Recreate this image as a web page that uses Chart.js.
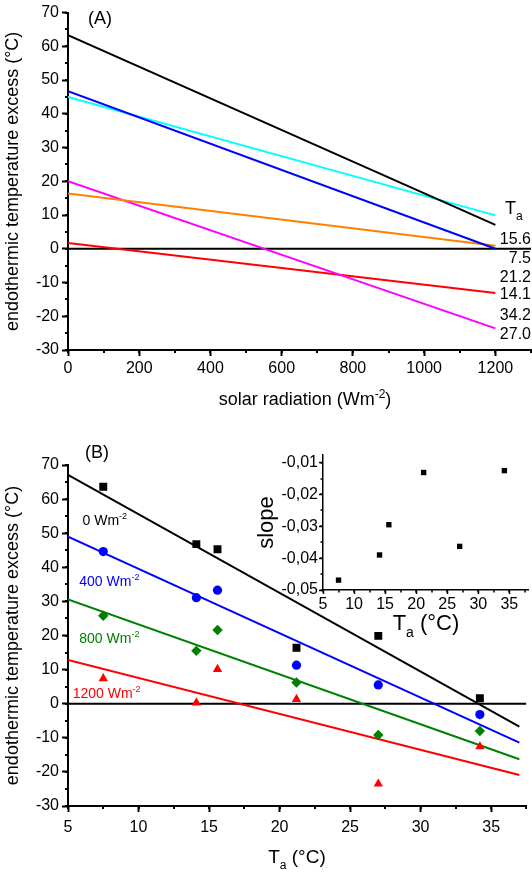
<!DOCTYPE html>
<html>
<head>
<meta charset="utf-8">
<script src="https://cdn.jsdelivr.net/npm/chart.js@4.4.1/dist/chart.umd.min.js"></script>
<style>
  body { margin: 0; background: #fff; }
  .panel { position: absolute; }
</style>
</head>
<body>
<div class="panel" style="left:0;top:0;width:532px;height:420px"><canvas id="chartA" width="532" height="420"></canvas></div>
<div class="panel" style="left:0;top:400px;width:532px;height:472px"><canvas id="chartB" width="532" height="472"></canvas></div>
<div class="panel" style="left:250px;top:440px;width:282px;height:200px"><canvas id="inset" width="282" height="200"></canvas></div>
<script>
// ---- data ----
// air temperatures of the six runs
const taValues = [7.5, 14.1, 15.6, 21.2, 27.0, 34.2];

// panel A: fitted lines vs solar radiation, value at 0 and at 1200 Wm-2
const radiationEnds = [0, 1200];
const excessAt0 = [63.3, 46.7, 45.0, 16.4, 20.0, 1.7];
const excessAt1200 = [7.1, 0.0, 9.9, 0.9, -23.6, -13.1];
const labelOrderA = ['15.6', '7.5', '21.2', '14.1', '34.2', '27.0'];

// panel B: measured points per radiation level
const levelsB = ['0', '400', '800', '1200'];
const excess0 = [63.6, 46.8, 45.3, 16.4, 19.9, 1.6];
const excess400 = [44.6, 31.1, 33.3, 11.3, 5.5, -3.2];
const excess800 = [25.8, 15.5, 21.6, 6.2, -9.2, -8.0];
const excess1200 = [7.4, 0.3, 10.1, 1.3, -23.5, -12.6];
// panel B: regression lines, ends at Ta = 5 and 37
const fitTa = [5, 37];
const fit0 = [67.1, -6.7];
const fit400 = [49.0, -11.4];
const fit800 = [30.6, -16.3];
const fit1200 = [12.8, -20.9];

// inset: slope of each line of panel A
const slopes = [-0.0469, -0.0390, -0.0295, -0.0131, -0.0363, -0.0125];

// ---- styles ----
const FONT = '"Liberation Sans", Arial, sans-serif';
Chart.defaults.font.family = FONT;
Chart.defaults.color = '#000';
const colorsA = ['#000000', '#0000ff', '#00ffff', '#ff8000', '#ff00ff', '#ff0000'];
const colorsB = ['#000000', '#0000ff', '#008000', '#ff0000'];
const stylesB = ['rect', 'circle', 'rectRot', 'triangle'];
const radiiB = [5.6, 4.6, 5.2, 5.4];

function pts(xs, ys) {
    return xs.map((x, i) => ({ x: x, y: ys[i] }));
}

// draws a text run with sub/superscripts, y is the middle of capitals
function drawRich(ctx, parts, x, y, size, color, align) {
    const small = Math.round(size * 0.65);
    let w = 0;
    parts.forEach(p => {
        ctx.font = ((p.sub || p.sup) ? small : size) + 'px ' + FONT;
        w += ctx.measureText(p.t).width;
    });
    let cx = align === 'center' ? x - w / 2 : (align === 'right' ? x - w : x);
    const base = y + size * 0.36;
    ctx.save();
    ctx.fillStyle = color;
    ctx.textAlign = 'left';
    ctx.textBaseline = 'alphabetic';
    parts.forEach(p => {
        ctx.font = ((p.sub || p.sup) ? small : size) + 'px ' + FONT;
        const dy = p.sub ? size * 0.3 : (p.sup ? -size * 0.42 : 0);
        ctx.fillText(p.t, cx, base + dy);
        cx += ctx.measureText(p.t).width;
    });
    ctx.restore();
}

// text annotations: data coordinates (xv/yv) or canvas pixels (px/py)
const richText = {
    id: 'richText',
    afterDraw(chart, args, opts) {
        const ctx = chart.ctx;
        (opts.items || []).forEach(it => {
            const x = it.xv !== undefined ? chart.scales.x.getPixelForValue(it.xv) : it.px;
            const y = it.yv !== undefined ? chart.scales.y.getPixelForValue(it.yv) : it.py;
            drawRich(ctx, it.parts, x, y, it.size, it.color || '#000', it.align || 'left');
        });
    }
};

// short ticks between the labelled ones
const minorTicks = {
    id: 'minorTicks',
    afterDraw(chart) {
        const ctx = chart.ctx;
        Object.values(chart.scales).forEach(sc => {
            const step = sc.options.minorStep;
            if (!step) return;
            const len = sc.options.minorLength || 3;
            ctx.save();
            ctx.strokeStyle = '#000';
            ctx.lineWidth = sc.options.grid.tickWidth || 1;
            ctx.beginPath();
            for (let k = Math.ceil(sc.min / step - 1e-9); k * step <= sc.max + 1e-9; k++) {
                const p = Math.round(sc.getPixelForValue(k * step));
                if (sc.isHorizontal()) {
                    ctx.moveTo(p, sc.top);
                    ctx.lineTo(p, sc.top + len);
                } else {
                    ctx.moveTo(sc.right, p);
                    ctx.lineTo(sc.right - len, p);
                }
            }
            ctx.stroke();
            ctx.restore();
        });
    }
};

function axis(min, max, step, extra) {
    return Object.assign({
        type: 'linear',
        min: min,
        max: max,
        ticks: { stepSize: step, includeBounds: false, autoSkip: false, maxRotation: 0,
                 font: { size: 16 }, color: '#000', padding: 3, callback: v => String(v) },
        grid: { drawOnChartArea: false, drawTicks: true, tickLength: 6, tickWidth: 2, tickColor: '#000' },
        border: { display: true, color: '#000', width: 2 }
    }, extra);
}

const yTitle = {
    display: true,
    text: 'endothermic temperature excess (°C)',
    font: { size: 18, lineHeight: 1.2 },
    padding: { top: 2, bottom: 0 }
};

// ---- panel A ----
const datasetsA = taValues.map((ta, i) => ({
    data: pts(radiationEnds, [excessAt0[i], excessAt1200[i]]),
    showLine: true,
    borderColor: colorsA[i],
    borderWidth: 2,
    pointRadius: 0
}));
datasetsA.push({
    data: pts([0, 1300], [0, 0]),
    showLine: true, borderColor: '#000', borderWidth: 2, pointRadius: 0
});

const labelYA = [3.2, -2.6, -8.2, -13.2, -19.4, -25.0];
const itemsA = [
    { parts: [{ t: '(A)' }], px: 88, py: 18, size: 18 },
    { parts: [{ t: 'T' }, { t: 'a', sub: true }], xv: 1227, yv: 12.1, size: 18 },
    { parts: [{ t: 'solar radiation (Wm' }, { t: '-2', sup: true }, { t: ')' }], px: 305, py: 399, size: 18, align: 'center' }
].concat(labelOrderA.map((t, i) => ({ parts: [{ t: t }], xv: 1300, yv: labelYA[i], size: 16, align: 'right' })));

new Chart(document.getElementById('chartA'), {
    type: 'scatter',
    data: { datasets: datasetsA },
    options: {
        responsive: false,
        animation: false,
        devicePixelRatio: 1,
        layout: { padding: { top: 10, right: 1, left: 0, bottom: 0 } },
        plugins: { legend: { display: false }, tooltip: { enabled: false }, richText: { items: itemsA } },
        scales: {
            x: axis(0, 1300, 200, { minorStep: 100, afterFit(s) { s.height = 70; } }),
            y: axis(-30, 70, 10, { minorStep: 5, title: yTitle, afterFit(s) { s.width = 68; } })
        }
    },
    plugins: [richText, minorTicks]
});

// ---- panel B ----
const pointSets = [excess0, excess400, excess800, excess1200];
const fitSets = [fit0, fit400, fit800, fit1200];
const datasetsB = [];
pointSets.forEach((ys, i) => datasetsB.push({
    data: pts(taValues, ys),
    pointStyle: stylesB[i],
    pointRadius: radiiB[i],
    pointBackgroundColor: colorsB[i],
    pointBorderWidth: 0,
    showLine: false
}));
fitSets.forEach((ys, i) => datasetsB.push({
    data: pts(fitTa, ys),
    showLine: true, borderColor: colorsB[i], borderWidth: 2, pointRadius: 0
}));
datasetsB.push({
    data: pts([5, 37.5], [0, 0]),
    showLine: true, borderColor: '#000', borderWidth: 2, pointRadius: 0
});

const labelPosB = [[6.03, 53.9], [5.8, 36.0], [5.8, 19.4], [5.33, 3.2]];
const itemsB = [
    { parts: [{ t: '(B)' }], px: 85, py: 52, size: 18 },
    { parts: [{ t: 'T' }, { t: 'a', sub: true }, { t: ' (°C)' }], px: 297, py: 456, size: 19, align: 'center' }
].concat(levelsB.map((lv, i) => ({
    parts: [{ t: lv + ' Wm' }, { t: '-2', sup: true }],
    xv: labelPosB[i][0], yv: labelPosB[i][1], size: 14, color: colorsB[i]
})));

const xB = axis(5, 37.5, 5, { minorStep: 2.5, afterFit(s) { s.height = 66; } });
xB.ticks.padding = 6;

new Chart(document.getElementById('chartB'), {
    type: 'scatter',
    data: { datasets: datasetsB },
    options: {
        responsive: false,
        animation: false,
        devicePixelRatio: 1,
        layout: { padding: { top: 65, right: 1, left: 0, bottom: 0 } },
        plugins: { legend: { display: false }, tooltip: { enabled: false }, richText: { items: itemsB } },
        scales: {
            x: xB,
            y: axis(-30, 70, 10, { minorStep: 5, title: yTitle, afterFit(s) { s.width = 68; } })
        }
    },
    plugins: [richText, minorTicks]
});

// ---- inset: slope vs Ta ----
const insetAxis = (min, max, step, extra) => {
    const a = axis(min, max, step, extra);
    a.grid.tickLength = 4;
    a.grid.tickWidth = 1.5;
    a.border.width = 1.5;
    a.minorLength = 2.5;
    return a;
};
const yInset = insetAxis(-0.05, -0.0076, 0.01, {
    minorStep: 0.005,
    title: { display: true, text: 'slope', font: { size: 22, lineHeight: 1.2 }, padding: { top: 4, bottom: 0 } },
    afterFit(s) { s.width = 73; }
});
yInset.ticks.padding = 1;
yInset.ticks.callback = v => v.toFixed(2).replace('.', ',');
const xInset = insetAxis(5, 38, 5, { minorStep: 2.5, afterFit(s) { s.height = 50; } });
xInset.ticks.padding = 1;

new Chart(document.getElementById('inset'), {
    type: 'scatter',
    data: {
        datasets: [{
            data: pts(taValues, slopes),
            pointStyle: 'rect', pointRadius: 3.8,
            pointBackgroundColor: '#000', pointBorderWidth: 0
        }]
    },
    options: {
        responsive: false,
        animation: false,
        devicePixelRatio: 1,
        layout: { padding: { top: 15, right: 4, left: 0, bottom: 0 } },
        plugins: {
            legend: { display: false }, tooltip: { enabled: false },
            richText: { items: [{ parts: [{ t: 'T' }, { t: 'a', sub: true }, { t: ' (°C)' }], px: 176, py: 182, size: 22, align: 'center' }] }
        },
        scales: { x: xInset, y: yInset }
    },
    plugins: [richText, minorTicks]
});
</script>
</body>
</html>
